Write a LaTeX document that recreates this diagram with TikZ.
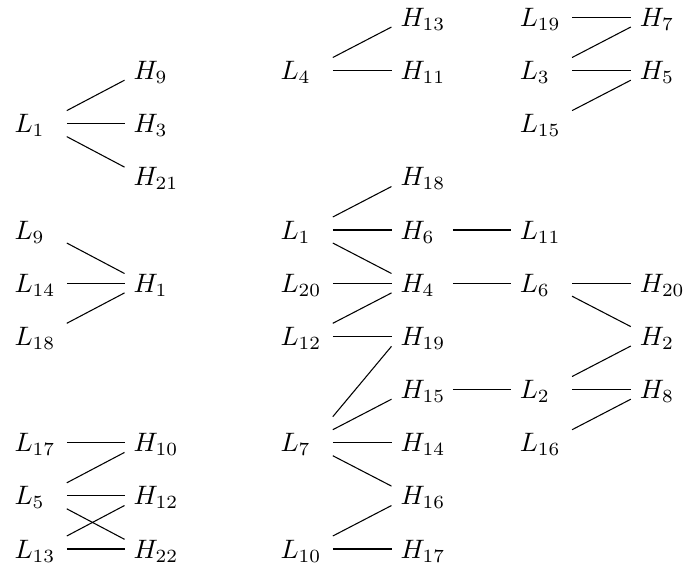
\documentclass[tikz,border=0pt]{standalone}
\usetikzlibrary{calc}
\tikzset{
  vx/.style={anchor=west, text width=16.2pt, inner xsep=3.19pt, inner ysep=0pt,
             text height=6.8pt, text depth=0pt, align=left},
  link/.style={line width=0.4pt}
}
\newcommand\linkH[2]{\draw[link] (#1.east) -- (#2.west);}
\newcommand\linkU[2]{\draw[link] ($(#1.east)+(0,-13)$) -- ($(#2.west)+(0,9.7)$);}
\newcommand\linkD[2]{\draw[link] ($(#1.east)+(0,13)$) -- ($(#2.west)+(0,-9.7)$);}
\newcommand\linkUU[2]{\draw[link] ($(#1.east)+(0,-26)$) -- ($(#2.west)+(0,10)$);}
\begin{document}
\begin{tikzpicture}[x=0.375pt, y=-0.375pt]
\useasboundingbox (0,0) rectangle (686,571);
% column 0
\node[vx] (L1a) at (5.5,123.6) {$L_1$};
\node[vx] (L9)  at (5.5,230.0) {$L_9$};
\node[vx] (L14) at (5.5,283.2) {$L_{14}$};
\node[vx] (L18) at (5.5,336.3) {$L_{18}$};
\node[vx] (L17) at (5.5,442.7) {$L_{17}$};
\node[vx] (L5)  at (5.5,495.8) {$L_5$};
\node[vx] (L13) at (5.5,549.0) {$L_{13}$};
% column 1
\node[vx] (H9)  at (124.5,70.5)  {$H_9$};
\node[vx] (H3)  at (124.5,123.6) {$H_3$};
\node[vx] (H21) at (124.5,176.8) {$H_{21}$};
\node[vx] (H1)  at (124.5,283.2) {$H_1$};
\node[vx] (H10) at (124.5,442.7) {$H_{10}$};
\node[vx] (H12) at (124.5,495.8) {$H_{12}$};
\node[vx] (H22) at (124.5,549.0) {$H_{22}$};
% column 2
\node[vx] (L4)  at (271.5,70.5)  {$L_4$};
\node[vx] (L1b) at (271.5,230.0) {$L_1$};
\node[vx] (L20) at (271.5,283.2) {$L_{20}$};
\node[vx] (L12) at (271.5,336.3) {$L_{12}$};
\node[vx] (L7)  at (271.5,442.7) {$L_7$};
\node[vx] (L10) at (271.5,549.0) {$L_{10}$};
% column 3
\node[vx] (H13) at (391.5,17.3)  {$H_{13}$};
\node[vx] (H11) at (391.5,70.5)  {$H_{11}$};
\node[vx] (H18) at (391.5,176.8) {$H_{18}$};
\node[vx] (H6)  at (391.5,230.0) {$H_6$};
\node[vx] (H4)  at (391.5,283.2) {$H_4$};
\node[vx] (H19) at (391.5,336.3) {$H_{19}$};
\node[vx] (H15) at (391.5,389.5) {$H_{15}$};
\node[vx] (H14) at (391.5,442.7) {$H_{14}$};
\node[vx] (H16) at (391.5,495.8) {$H_{16}$};
\node[vx] (H17) at (391.5,549.0) {$H_{17}$};
% column 4
\node[vx] (L19) at (510.8,17.3)  {$L_{19}$};
\node[vx] (L3)  at (510.8,70.5)  {$L_3$};
\node[vx] (L15) at (510.8,123.6) {$L_{15}$};
\node[vx] (L11) at (510.8,230.0) {$L_{11}$};
\node[vx] (L6)  at (510.8,283.2) {$L_6$};
\node[vx] (L2)  at (510.8,389.5) {$L_2$};
\node[vx] (L16) at (510.8,442.7) {$L_{16}$};
% column 5
\node[vx] (H7)  at (630.8,17.3)  {$H_7$};
\node[vx] (H5)  at (630.8,70.5)  {$H_5$};
\node[vx] (H20) at (630.8,283.2) {$H_{20}$};
\node[vx] (H2)  at (630.8,336.3) {$H_2$};
\node[vx] (H8)  at (630.8,389.5) {$H_8$};
% connectors
\linkU{L1a}{H9} \linkH{L1a}{H3} \linkD{L1a}{H21}
\linkU{L4}{H13} \linkH{L4}{H11}
\linkH{L19}{H7} \linkU{L3}{H7} \linkH{L3}{H5} \linkU{L15}{H5}
\linkD{L9}{H1} \linkH{L14}{H1} \linkU{L18}{H1}
\linkH{L17}{H10} \linkU{L5}{H10} \linkH{L5}{H12} \linkD{L5}{H22} \linkU{L13}{H12} \linkH{L13}{H22}
\linkU{L1b}{H18} \linkH{L1b}{H6} \linkD{L1b}{H4} \linkH{L20}{H4} \linkU{L12}{H4} \linkH{L12}{H19}
\linkUU{L7}{H19} \linkU{L7}{H15} \linkH{L7}{H14} \linkD{L7}{H16} \linkU{L10}{H16} \linkH{L10}{H17}
\linkH{H6}{L11} \linkH{H4}{L6} \linkH{H15}{L2}
\linkH{L6}{H20} \linkD{L6}{H2} \linkU{L2}{H2} \linkH{L2}{H8} \linkU{L16}{H8}
\end{tikzpicture}
\end{document}
